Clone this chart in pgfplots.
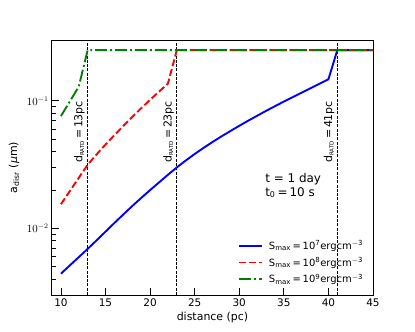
\documentclass[border=0pt]{standalone}
\usepackage{fontspec}
\setmainfont{DejaVu Sans}
\usepackage{pgfplots}
\pgfplotsset{compat=1.18}
\usetikzlibrary{calc}

\definecolor{mplblue}{rgb}{0,0,1}
\definecolor{mplred}{rgb}{1,0,0}
\definecolor{mplgreen}{rgb}{0,0.5,0}

\newcommand{\drat}[1]{d\textsubscript{\fontsize{5.5}{6}\selectfont RATD}\,=\,#1pc}

\begin{document}
\begin{tikzpicture}
\begin{axis}[
    scale only axis,
    width=321bp, height=255bp,
    ymode=log,
    xmin=9, xmax=45,
    ymin=0.003, ymax=0.3,
    xtick={10,15,20,25,30,35,40,45},
    tick align=inside,
    xtick pos=bottom, ytick pos=left,
    major tick length=7bp,
    minor tick length=4bp,
    every tick/.style={black, line width=0.8bp},
    axis line style={line width=1bp},
    tick label style={font=\fontsize{10.5}{12}\selectfont},
    /pgf/number format/assume math mode=true,
    xlabel={distance (pc)},
    ylabel={a\textsubscript{disr} (\textit{μ}m)},
    label style={font=\fontsize{11}{13}\selectfont},
    xlabel style={at={(axis description cs:0.5,-0.09)}, anchor=center},
    ylabel style={at={(axis description cs:-0.118,0.5)}, anchor=center},
    legend style={at={(0.985,0.025)}, anchor=south east, draw=none, fill=none,
        font=\fontsize{10}{12}\selectfont, row sep=2.5bp},
    legend cell align=left,
    legend image code/.code={\draw[#1] (0bp,0bp) -- (23bp,0bp); \path (27bp,0bp);},
]

% vertical markers
\addplot[black, line width=0.7bp, dash pattern=on 3bp off 1.3bp, forget plot]
    coordinates {(13,0.003) (13,0.3)};
\addplot[black, line width=0.7bp, dash pattern=on 3bp off 1.3bp, forget plot]
    coordinates {(23,0.003) (23,0.3)};
\addplot[black, line width=0.7bp, dash pattern=on 3bp off 1.3bp, forget plot]
    coordinates {(41,0.003) (41,0.3)};

\addplot[mplblue, line width=1.9bp] coordinates {
    (10,0.00441) (11,0.00512) (12,0.00594) (13,0.00690) (14,0.00805)
    (15,0.00942) (16,0.01102) (17,0.01285) (18,0.01496) (19,0.01730)
    (20,0.01995) (21,0.02291) (22,0.02630) (23,0.03006) (24,0.03404)
    (25,0.03828) (26,0.04276) (27,0.04753) (28,0.05260) (29,0.05794)
    (30,0.06368) (31,0.06982) (32,0.07638) (33,0.08337) (34,0.09078)
    (35,0.09863) (36,0.1069) (37,0.1159) (38,0.1256) (39,0.1361)
    (40,0.1476) (41,0.25) (42,0.25) (43,0.25) (44,0.25) (45,0.25)};
\addlegendentry{S\textsubscript{max}\,=\,10\textsuperscript{7}ergcm\textsuperscript{$-$3}}

\addplot[mplred, line width=1.9bp, dash pattern=on 7bp off 3bp] coordinates {
    (10,0.01545) (11,0.01959) (12,0.02489) (13,0.03155) (14,0.03802)
    (15,0.04539) (16,0.05383) (17,0.06353) (18,0.07464) (19,0.08750)
    (20,0.1019) (21,0.1180) (22,0.1365) (23,0.25) (25,0.25) (30,0.25)
    (35,0.25) (40,0.25) (45,0.25)};
\addlegendentry{S\textsubscript{max}\,=\,10\textsuperscript{8}ergcm\textsuperscript{$-$3}}

\addplot[mplgreen, line width=1.9bp, dash pattern=on 12bp off 3bp on 1.9bp off 3bp] coordinates {
    (10,0.0759) (11,0.0990) (12,0.129) (13,0.25) (20,0.25) (30,0.25)
    (40,0.25) (45,0.25)};
\addlegendentry{S\textsubscript{max}\,=\,10\textsuperscript{9}ergcm\textsuperscript{$-$3}}

% annotations
\node[rotate=90, anchor=south west, inner sep=1bp, font=\fontsize{11}{13}\selectfont]
    at (axis cs:12.8,0.032) {\drat{13}};
\node[rotate=90, anchor=south west, inner sep=1bp, font=\fontsize{11}{13}\selectfont]
    at (axis cs:22.8,0.032) {\drat{23}};
\node[rotate=90, anchor=south west, inner sep=1bp, font=\fontsize{11}{13}\selectfont]
    at (axis cs:40.8,0.032) {\drat{41}};
\node[anchor=west, align=left, inner sep=0pt, font=\fontsize{12}{13.5}\selectfont]
    at (axis cs:32.9,0.0216) {t = 1 day\\t\textsubscript{0}\,=\,10 s};
\end{axis}
\path ($(current axis.south west)+(-52bp,-37bp)$) rectangle ($(current axis.north east)+(42bp,40bp)$);
\end{tikzpicture}
\end{document}
